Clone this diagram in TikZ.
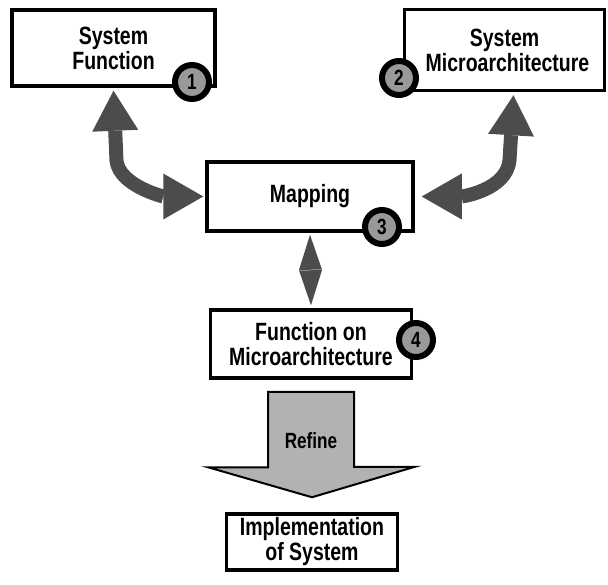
\documentclass[tikz,border=0pt]{standalone}
\usepackage{fontspec}
\setmainfont{Liberation Sans}[FakeStretch=0.78]
\usetikzlibrary{arrows.meta, positioning}

\begin{document}
\begin{tikzpicture}[
    x=1pt, y=-1pt,
    block/.style={rectangle, draw, line width=3.5pt, fill=white, minimum width=#1, align=center, inner sep=0pt, font=\fontsize{25}{25}\selectfont\bfseries},
    block/.default=200pt,
    badge/.style={circle, draw, line width=6pt, fill=black!40, minimum size=34pt, inner sep=0pt, font=\fontsize{22}{22}\selectfont\bfseries},
    bigarrow/.style={draw=black!70, line width=14pt, >={Triangle[length=40pt, width=46pt, line width=0pt]}, <->},
    midarrow/.style={draw=black!70, line width=3pt, >={Triangle[length=35pt, width=23pt, line width=0pt]}, <->},
    refine/.style={draw, line width=2pt, fill=black!30, line join=miter}
]
\useasboundingbox (0,0) rectangle (608,585);

% Nodes
\node[block=203pt, minimum height=76pt] (func) at (113.5,48) {System\\Function};
\node[block=200pt, minimum height=81pt] (micro) at (504.5,50) {System\\\hspace*{6pt}Microarchitecture};
\node[block=206pt, minimum height=69pt] (map) at (310,196.5) {Mapping};
\node[block=201pt, minimum height=68pt] (fom) at (311,344) {Function on\\Microarchitecture};
\node[block=171pt, minimum height=56pt] (impl) at (312,542) {Implementation\\of System};

\node[badge] (b1) at (192,82) {1};
\node[badge] (b2) at (399,78) {2};
\node[badge] (b3) at (382,227) {3};
\node[badge] (b4) at (416,340) {4};

% Edges
\draw[bigarrow] ([yshift=-3pt]func.south) -- ++(3,70) .. controls +(3,25) and +(-40,0) .. ([xshift=-2pt]map.west);
\draw[bigarrow] ([xshift=9pt, yshift=-3pt]micro.south) -- ++(-4,65) .. controls +(-3,30) and +(40,0) .. ([xshift=7pt]map.east);
\draw[midarrow] ([yshift=-2pt]map.south) -- ([yshift=3pt]fom.north);

% Refine arrow
\coordinate (rtop) at ([yshift=-12pt]fom.south);
\coordinate (rtip) at ([yshift=15pt]impl.north);
\filldraw[refine] (rtop) ++(-43,0) -- ++(86,0) -- ++(0,75) -- ++(61,0) -- (rtip) -- ++(-104,-30) -- ++(60,0) -- cycle;
\node[font=\fontsize{22}{22}\selectfont\bfseries] (refinelabel) at ([yshift=-49pt]rtop) {Refine};

\end{tikzpicture}
\end{document}
